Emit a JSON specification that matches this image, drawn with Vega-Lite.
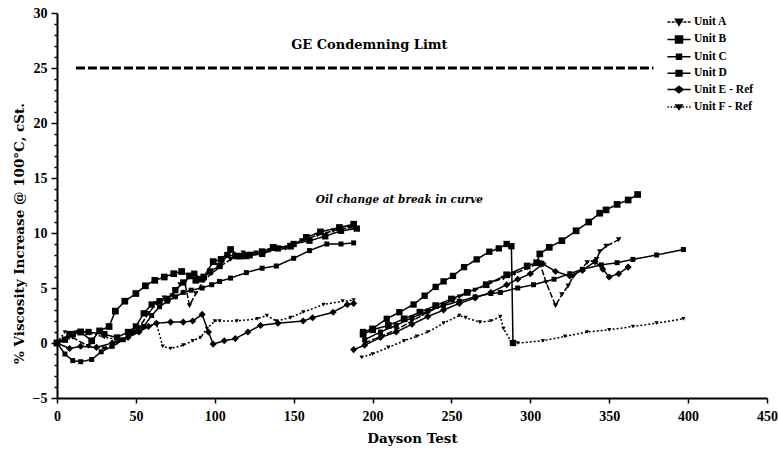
{
  "$schema": "https://vega.github.io/schema/vega-lite/v6.json",
  "width": 710,
  "height": 385,
  "autosize": {"type": "none"},
  "padding": {"left": 57, "top": 13, "right": 12, "bottom": 60},
  "background": "white",
  "config": {
    "view": {"stroke": null},
    "font": "Liberation Serif",
    "axis": {"labelFont": "Liberation Serif", "labelFontWeight": "bold", "labelFontSize": 14, "labelColor": "black", "titleFont": "DejaVu Serif", "titleFontWeight": "bold", "titleFontSize": 13.5, "titleColor": "black", "domainColor": "black", "domainWidth": 2, "tickColor": "black", "tickWidth": 1.5, "grid": false}
  },
  "datasets": {
    "units": [
      {"series":"Unit A","run":1,"day":0,"value":0},{"series":"Unit A","run":1,"day":10,"value":0.5},{"series":"Unit A","run":1,"day":20,"value":-0.3},{"series":"Unit A","run":1,"day":30,"value":-0.5},{"series":"Unit A","run":1,"day":38,"value":0},{"series":"Unit A","run":1,"day":45,"value":0.5},{"series":"Unit A","run":1,"day":52,"value":1.4},{"series":"Unit A","run":1,"day":58,"value":2.7},{"series":"Unit A","run":1,"day":63,"value":3.6},{"series":"Unit A","run":1,"day":68,"value":4.1},{"series":"Unit A","run":1,"day":73,"value":4.3},{"series":"Unit A","run":1,"day":78,"value":5.3},{"series":"Unit A","run":1,"day":81,"value":5.5},{"series":"Unit A","run":1,"day":84,"value":3.4},{"series":"Unit A","run":1,"day":88,"value":4.5},{"series":"Unit A","run":1,"day":93,"value":5.7},{"series":"Unit A","run":1,"day":98,"value":6.3},{"series":"Unit A","run":1,"day":104,"value":7.0},{"series":"Unit A","run":1,"day":110,"value":7.6},{"series":"Unit A","run":1,"day":118,"value":8.2},{"series":"Unit A","run":1,"day":126,"value":8.2},{"series":"Unit A","run":1,"day":135,"value":8.4},{"series":"Unit A","run":1,"day":145,"value":8.6},{"series":"Unit A","run":1,"day":155,"value":9.3},{"series":"Unit A","run":1,"day":165,"value":9.8},{"series":"Unit A","run":1,"day":175,"value":10.2},{"series":"Unit A","run":1,"day":185,"value":10.5},{"series":"Unit A","run":1,"day":190,"value":10.4},
      {"series":"Unit A","run":2,"day":195,"value":0.0},{"series":"Unit A","run":2,"day":205,"value":0.6},{"series":"Unit A","run":2,"day":215,"value":1.2},{"series":"Unit A","run":2,"day":225,"value":2.0},{"series":"Unit A","run":2,"day":235,"value":2.8},{"series":"Unit A","run":2,"day":245,"value":3.5},{"series":"Unit A","run":2,"day":255,"value":4.2},{"series":"Unit A","run":2,"day":265,"value":4.8},{"series":"Unit A","run":2,"day":275,"value":5.5},{"series":"Unit A","run":2,"day":283,"value":5.9},{"series":"Unit A","run":2,"day":290,"value":6.3},{"series":"Unit A","run":2,"day":298,"value":6.8},{"series":"Unit A","run":2,"day":306,"value":7.3},{"series":"Unit A","run":2,"day":310,"value":5.5},{"series":"Unit A","run":2,"day":316,"value":3.4},{"series":"Unit A","run":2,"day":320,"value":4.4},{"series":"Unit A","run":2,"day":324,"value":5.2},{"series":"Unit A","run":2,"day":327,"value":6.0},{"series":"Unit A","run":2,"day":336,"value":7.3},{"series":"Unit A","run":2,"day":342,"value":7.6},{"series":"Unit A","run":2,"day":344,"value":8.3},{"series":"Unit A","run":2,"day":348,"value":8.8},{"series":"Unit A","run":2,"day":356,"value":9.4},
      {"series":"Unit B","run":1,"day":0,"value":0},{"series":"Unit B","run":1,"day":8,"value":0.8},{"series":"Unit B","run":1,"day":15,"value":1.0},{"series":"Unit B","run":1,"day":22,"value":0.2},{"series":"Unit B","run":1,"day":27,"value":1.1},{"series":"Unit B","run":1,"day":33,"value":1.5},{"series":"Unit B","run":1,"day":37,"value":2.9},{"series":"Unit B","run":1,"day":43,"value":3.8},{"series":"Unit B","run":1,"day":50,"value":4.5},{"series":"Unit B","run":1,"day":56,"value":5.2},{"series":"Unit B","run":1,"day":62,"value":5.7},{"series":"Unit B","run":1,"day":68,"value":6.0},{"series":"Unit B","run":1,"day":74,"value":6.3},{"series":"Unit B","run":1,"day":79,"value":6.5},{"series":"Unit B","run":1,"day":84,"value":6.1},{"series":"Unit B","run":1,"day":88,"value":5.7},{"series":"Unit B","run":1,"day":93,"value":6.0},{"series":"Unit B","run":1,"day":99,"value":7.4},{"series":"Unit B","run":1,"day":104,"value":7.6},{"series":"Unit B","run":1,"day":110,"value":8.5},{"series":"Unit B","run":1,"day":116,"value":7.9},{"series":"Unit B","run":1,"day":122,"value":8.0},{"series":"Unit B","run":1,"day":130,"value":8.3},{"series":"Unit B","run":1,"day":137,"value":8.7},{"series":"Unit B","run":1,"day":148,"value":8.8},{"series":"Unit B","run":1,"day":158,"value":9.6},{"series":"Unit B","run":1,"day":167,"value":10.1},{"series":"Unit B","run":1,"day":179,"value":10.5},{"series":"Unit B","run":1,"day":188,"value":10.8},
      {"series":"Unit B","run":2,"day":194,"value":0.8},{"series":"Unit B","run":2,"day":200,"value":1.2},{"series":"Unit B","run":2,"day":210,"value":1.6},{"series":"Unit B","run":2,"day":220,"value":2.2},{"series":"Unit B","run":2,"day":230,"value":2.8},{"series":"Unit B","run":2,"day":240,"value":3.4},{"series":"Unit B","run":2,"day":250,"value":4.0},{"series":"Unit B","run":2,"day":260,"value":4.6},{"series":"Unit B","run":2,"day":272,"value":5.3},{"series":"Unit B","run":2,"day":285,"value":6.2},{"series":"Unit B","run":2,"day":298,"value":7.0},{"series":"Unit B","run":2,"day":304,"value":7.3},{"series":"Unit B","run":2,"day":306,"value":8.1},{"series":"Unit B","run":2,"day":312,"value":8.7},{"series":"Unit B","run":2,"day":320,"value":9.3},{"series":"Unit B","run":2,"day":329,"value":10.2},{"series":"Unit B","run":2,"day":337,"value":11.0},{"series":"Unit B","run":2,"day":344,"value":11.8},{"series":"Unit B","run":2,"day":348,"value":12.1},{"series":"Unit B","run":2,"day":355,"value":12.6},{"series":"Unit B","run":2,"day":362,"value":13.0},{"series":"Unit B","run":2,"day":368,"value":13.5},
      {"series":"Unit C","run":1,"day":0,"value":0},{"series":"Unit C","run":1,"day":5,"value":-1.0},{"series":"Unit C","run":1,"day":10,"value":-1.6},{"series":"Unit C","run":1,"day":15,"value":-1.7},{"series":"Unit C","run":1,"day":22,"value":-1.5},{"series":"Unit C","run":1,"day":28,"value":-0.8},{"series":"Unit C","run":1,"day":35,"value":-0.3},{"series":"Unit C","run":1,"day":42,"value":0.3},{"series":"Unit C","run":1,"day":48,"value":1.0},{"series":"Unit C","run":1,"day":55,"value":1.5},{"series":"Unit C","run":1,"day":60,"value":2.5},{"series":"Unit C","run":1,"day":65,"value":3.3},{"series":"Unit C","run":1,"day":70,"value":3.8},{"series":"Unit C","run":1,"day":75,"value":4.2},{"series":"Unit C","run":1,"day":80,"value":4.6},{"series":"Unit C","run":1,"day":85,"value":4.8},{"series":"Unit C","run":1,"day":92,"value":5.0},{"series":"Unit C","run":1,"day":98,"value":5.3},{"series":"Unit C","run":1,"day":103,"value":5.6},{"series":"Unit C","run":1,"day":110,"value":5.9},{"series":"Unit C","run":1,"day":120,"value":6.4},{"series":"Unit C","run":1,"day":130,"value":6.8},{"series":"Unit C","run":1,"day":139,"value":7.0},{"series":"Unit C","run":1,"day":150,"value":7.7},{"series":"Unit C","run":1,"day":160,"value":8.4},{"series":"Unit C","run":1,"day":171,"value":9.0},{"series":"Unit C","run":1,"day":180,"value":9.0},{"series":"Unit C","run":1,"day":188,"value":9.1},
      {"series":"Unit C","run":2,"day":195,"value":0.3},{"series":"Unit C","run":2,"day":205,"value":1.0},{"series":"Unit C","run":2,"day":215,"value":1.6},{"series":"Unit C","run":2,"day":225,"value":2.3},{"series":"Unit C","run":2,"day":235,"value":2.9},{"series":"Unit C","run":2,"day":245,"value":3.4},{"series":"Unit C","run":2,"day":255,"value":3.8},{"series":"Unit C","run":2,"day":265,"value":4.2},{"series":"Unit C","run":2,"day":275,"value":4.5},{"series":"Unit C","run":2,"day":281,"value":4.6},{"series":"Unit C","run":2,"day":292,"value":5.0},{"series":"Unit C","run":2,"day":302,"value":5.3},{"series":"Unit C","run":2,"day":315,"value":5.8},{"series":"Unit C","run":2,"day":325,"value":6.3},{"series":"Unit C","run":2,"day":333,"value":6.7},{"series":"Unit C","run":2,"day":345,"value":7.1},{"series":"Unit C","run":2,"day":355,"value":7.3},{"series":"Unit C","run":2,"day":365,"value":7.6},{"series":"Unit C","run":2,"day":380,"value":8.0},{"series":"Unit C","run":2,"day":397,"value":8.5},
      {"series":"Unit D","run":1,"day":0,"value":0},{"series":"Unit D","run":1,"day":5,"value":0.3},{"series":"Unit D","run":1,"day":10,"value":0.8},{"series":"Unit D","run":1,"day":15,"value":1.0},{"series":"Unit D","run":1,"day":20,"value":1.0},{"series":"Unit D","run":1,"day":30,"value":0.8},{"series":"Unit D","run":1,"day":38,"value":0.5},{"series":"Unit D","run":1,"day":45,"value":1.0},{"series":"Unit D","run":1,"day":50,"value":1.5},{"series":"Unit D","run":1,"day":55,"value":2.7},{"series":"Unit D","run":1,"day":60,"value":3.5},{"series":"Unit D","run":1,"day":65,"value":3.8},{"series":"Unit D","run":1,"day":70,"value":4.0},{"series":"Unit D","run":1,"day":75,"value":4.8},{"series":"Unit D","run":1,"day":80,"value":5.5},{"series":"Unit D","run":1,"day":87,"value":6.3},{"series":"Unit D","run":1,"day":92,"value":5.8},{"series":"Unit D","run":1,"day":97,"value":6.5},{"series":"Unit D","run":1,"day":103,"value":7.0},{"series":"Unit D","run":1,"day":108,"value":8.0},{"series":"Unit D","run":1,"day":113,"value":7.9},{"series":"Unit D","run":1,"day":120,"value":7.9},{"series":"Unit D","run":1,"day":130,"value":8.1},{"series":"Unit D","run":1,"day":140,"value":8.6},{"series":"Unit D","run":1,"day":150,"value":9.0},{"series":"Unit D","run":1,"day":160,"value":9.3},{"series":"Unit D","run":1,"day":170,"value":9.7},{"series":"Unit D","run":1,"day":180,"value":10.2},{"series":"Unit D","run":1,"day":190,"value":10.4},
      {"series":"Unit D","run":2,"day":194,"value":1.0},{"series":"Unit D","run":2,"day":200,"value":1.3},{"series":"Unit D","run":2,"day":209,"value":2.2},{"series":"Unit D","run":2,"day":217,"value":2.8},{"series":"Unit D","run":2,"day":226,"value":3.5},{"series":"Unit D","run":2,"day":233,"value":4.3},{"series":"Unit D","run":2,"day":240,"value":5.1},{"series":"Unit D","run":2,"day":245,"value":5.6},{"series":"Unit D","run":2,"day":251,"value":6.1},{"series":"Unit D","run":2,"day":258,"value":6.9},{"series":"Unit D","run":2,"day":266,"value":7.6},{"series":"Unit D","run":2,"day":274,"value":8.3},{"series":"Unit D","run":2,"day":280,"value":8.6},{"series":"Unit D","run":2,"day":285,"value":9.0},{"series":"Unit D","run":2,"day":288,"value":8.8},{"series":"Unit D","run":2,"day":289,"value":0.0},
      {"series":"Unit E - Ref","run":1,"day":0,"value":0},{"series":"Unit E - Ref","run":1,"day":8,"value":-0.5},{"series":"Unit E - Ref","run":1,"day":15,"value":-0.3},{"series":"Unit E - Ref","run":1,"day":25,"value":-0.4},{"series":"Unit E - Ref","run":1,"day":35,"value":0.0},{"series":"Unit E - Ref","run":1,"day":45,"value":0.5},{"series":"Unit E - Ref","run":1,"day":52,"value":1.0},{"series":"Unit E - Ref","run":1,"day":58,"value":1.5},{"series":"Unit E - Ref","run":1,"day":63,"value":1.8},{"series":"Unit E - Ref","run":1,"day":72,"value":1.9},{"series":"Unit E - Ref","run":1,"day":80,"value":1.9},{"series":"Unit E - Ref","run":1,"day":86,"value":2.0},{"series":"Unit E - Ref","run":1,"day":92,"value":2.6},{"series":"Unit E - Ref","run":1,"day":96,"value":1.0},{"series":"Unit E - Ref","run":1,"day":99,"value":-0.1},{"series":"Unit E - Ref","run":1,"day":106,"value":0.2},{"series":"Unit E - Ref","run":1,"day":113,"value":0.4},{"series":"Unit E - Ref","run":1,"day":121,"value":1.0},{"series":"Unit E - Ref","run":1,"day":129,"value":1.6},{"series":"Unit E - Ref","run":1,"day":140,"value":1.8},{"series":"Unit E - Ref","run":1,"day":156,"value":2.0},{"series":"Unit E - Ref","run":1,"day":162,"value":2.3},{"series":"Unit E - Ref","run":1,"day":175,"value":2.8},{"series":"Unit E - Ref","run":1,"day":184,"value":3.5},{"series":"Unit E - Ref","run":1,"day":188,"value":3.6},
      {"series":"Unit E - Ref","run":2,"day":188,"value":-0.6},{"series":"Unit E - Ref","run":2,"day":195,"value":-0.2},{"series":"Unit E - Ref","run":2,"day":205,"value":0.5},{"series":"Unit E - Ref","run":2,"day":215,"value":1.0},{"series":"Unit E - Ref","run":2,"day":225,"value":1.7},{"series":"Unit E - Ref","run":2,"day":235,"value":2.4},{"series":"Unit E - Ref","run":2,"day":245,"value":3.0},{"series":"Unit E - Ref","run":2,"day":255,"value":3.6},{"series":"Unit E - Ref","run":2,"day":265,"value":4.1},{"series":"Unit E - Ref","run":2,"day":275,"value":4.6},{"series":"Unit E - Ref","run":2,"day":285,"value":5.3},{"series":"Unit E - Ref","run":2,"day":292,"value":5.8},{"series":"Unit E - Ref","run":2,"day":300,"value":6.3},{"series":"Unit E - Ref","run":2,"day":308,"value":7.2},{"series":"Unit E - Ref","run":2,"day":316,"value":6.5},{"series":"Unit E - Ref","run":2,"day":325,"value":6.1},{"series":"Unit E - Ref","run":2,"day":333,"value":6.6},{"series":"Unit E - Ref","run":2,"day":341,"value":7.4},{"series":"Unit E - Ref","run":2,"day":346,"value":6.7},{"series":"Unit E - Ref","run":2,"day":350,"value":6.0},{"series":"Unit E - Ref","run":2,"day":356,"value":6.3},{"series":"Unit E - Ref","run":2,"day":362,"value":6.9},
      {"series":"Unit F - Ref","run":1,"day":0,"value":0},{"series":"Unit F - Ref","run":1,"day":5,"value":1.0},{"series":"Unit F - Ref","run":1,"day":12,"value":1.0},{"series":"Unit F - Ref","run":1,"day":20,"value":1.0},{"series":"Unit F - Ref","run":1,"day":30,"value":0.5},{"series":"Unit F - Ref","run":1,"day":40,"value":0.3},{"series":"Unit F - Ref","run":1,"day":50,"value":1.0},{"series":"Unit F - Ref","run":1,"day":58,"value":1.5},{"series":"Unit F - Ref","run":1,"day":63,"value":1.8},{"series":"Unit F - Ref","run":1,"day":67,"value":-0.3},{"series":"Unit F - Ref","run":1,"day":72,"value":-0.5},{"series":"Unit F - Ref","run":1,"day":80,"value":-0.2},{"series":"Unit F - Ref","run":1,"day":86,"value":0.2},{"series":"Unit F - Ref","run":1,"day":91,"value":0.5},{"series":"Unit F - Ref","run":1,"day":95,"value":1.3},{"series":"Unit F - Ref","run":1,"day":100,"value":2.0},{"series":"Unit F - Ref","run":1,"day":103,"value":2.0},{"series":"Unit F - Ref","run":1,"day":114,"value":2.0},{"series":"Unit F - Ref","run":1,"day":127,"value":2.2},{"series":"Unit F - Ref","run":1,"day":133,"value":2.5},{"series":"Unit F - Ref","run":1,"day":139,"value":2.0},{"series":"Unit F - Ref","run":1,"day":148,"value":2.3},{"series":"Unit F - Ref","run":1,"day":156,"value":2.8},{"series":"Unit F - Ref","run":1,"day":169,"value":3.5},{"series":"Unit F - Ref","run":1,"day":181,"value":3.8},{"series":"Unit F - Ref","run":1,"day":188,"value":3.9},
      {"series":"Unit F - Ref","run":2,"day":193,"value":-1.3},{"series":"Unit F - Ref","run":2,"day":200,"value":-1.0},{"series":"Unit F - Ref","run":2,"day":210,"value":-0.4},{"series":"Unit F - Ref","run":2,"day":220,"value":0.2},{"series":"Unit F - Ref","run":2,"day":228,"value":0.6},{"series":"Unit F - Ref","run":2,"day":235,"value":1.0},{"series":"Unit F - Ref","run":2,"day":245,"value":1.8},{"series":"Unit F - Ref","run":2,"day":255,"value":2.5},{"series":"Unit F - Ref","run":2,"day":259,"value":2.3},{"series":"Unit F - Ref","run":2,"day":268,"value":1.9},{"series":"Unit F - Ref","run":2,"day":275,"value":2.0},{"series":"Unit F - Ref","run":2,"day":281,"value":2.4},{"series":"Unit F - Ref","run":2,"day":283,"value":1.3},{"series":"Unit F - Ref","run":2,"day":288,"value":0.1},{"series":"Unit F - Ref","run":2,"day":292,"value":0.0},{"series":"Unit F - Ref","run":2,"day":308,"value":0.2},{"series":"Unit F - Ref","run":2,"day":322,"value":0.6},{"series":"Unit F - Ref","run":2,"day":336,"value":1.0},{"series":"Unit F - Ref","run":2,"day":350,"value":1.2},{"series":"Unit F - Ref","run":2,"day":365,"value":1.5},{"series":"Unit F - Ref","run":2,"day":380,"value":1.8},{"series":"Unit F - Ref","run":2,"day":397,"value":2.2}
    ],
    "limit": [{"day": 12, "value": 25}, {"day": 378, "value": 25}],
    "notes": [
      {"day": 198, "value": 27.1, "text": "GE Condemning Limt", "kind": "limit"},
      {"day": 217, "value": 13.0, "text": "Oil change at break in curve", "kind": "oil"}
    ]
  },
  "encoding": {
    "x": {"field": "day", "type": "quantitative", "scale": {"domain": [0, 450], "nice": false}, "axis": {"values": [0, 50, 100, 150, 200, 250, 300, 350, 400, 450], "title": "Dayson Test", "tickSize": 5, "labelPadding": 6, "titlePadding": 8, "labelFlush": false}},
    "y": {"field": "value", "type": "quantitative", "scale": {"domain": [-5, 30], "nice": false, "zero": false}, "axis": {"values": [-5,-4,-3,-2,-1,0,1,2,3,4,5,6,7,8,9,10,11,12,13,14,15,16,17,18,19,20,21,22,23,24,25,26,27,28,29,30], "labelExpr": "datum.value % 5 === 0 ? datum.label : ''", "tickSize": {"condition": {"test": "datum.value % 5 === 0", "value": 6}, "value": 3}, "labelPadding": 4, "labelOverlap": false, "labelFlush": false, "title": "% Viscosity Increase @ 100°C, cSt.", "titlePadding": 6, "titleY": 220}}
  },
  "layer": [
    {
      "data": {"name": "limit"},
      "mark": {"type": "line", "color": "black", "strokeWidth": 3, "strokeDash": [9, 3]}
    },
    {
      "data": {"name": "units"},
      "mark": {"type": "line", "color": "black", "strokeWidth": 1.5},
      "encoding": {
        "detail": [{"field": "series"}, {"field": "run"}],
        "strokeDash": {"field": "series", "type": "nominal", "scale": {"domain": ["Unit A","Unit B","Unit C","Unit D","Unit E - Ref","Unit F - Ref"], "range": [[6,2],[1,0],[1,0],[1,0],[1,0],[2,2]]}, "legend": null},
        "order": {"field": "day", "type": "quantitative"}
      }
    },
    {"data": {"name": "units"}, "transform": [{"filter": "datum.series === 'Unit A'"}], "mark": {"type": "point", "filled": true, "color": "black", "opacity": 1, "shape": "triangle-down", "size": 30}},
    {"data": {"name": "units"}, "transform": [{"filter": "datum.series === 'Unit B'"}], "mark": {"type": "point", "filled": true, "color": "black", "opacity": 1, "shape": "square", "size": 45}},
    {"data": {"name": "units"}, "transform": [{"filter": "datum.series === 'Unit C'"}], "mark": {"type": "point", "filled": true, "color": "black", "opacity": 1, "shape": "square", "size": 25}},
    {"data": {"name": "units"}, "transform": [{"filter": "datum.series === 'Unit D'"}], "mark": {"type": "point", "filled": true, "color": "black", "opacity": 1, "shape": "square", "size": 40}},
    {"data": {"name": "units"}, "transform": [{"filter": "datum.series === 'Unit E - Ref'"}], "mark": {"type": "point", "filled": true, "color": "black", "opacity": 1, "shape": "diamond", "size": 50}},
    {"data": {"name": "units"}, "transform": [{"filter": "datum.series === 'Unit F - Ref'"}], "mark": {"type": "point", "filled": true, "color": "black", "opacity": 1, "shape": "triangle-down", "size": 18}},
    {
      "data": {"name": "units"},
      "mark": {"type": "point", "filled": false, "color": "black", "strokeWidth": 1.5, "opacity": 0},
      "encoding": {
        "shape": {
          "field": "series", "type": "nominal",
          "scale": {"domain": ["Unit A","Unit B","Unit C","Unit D","Unit E - Ref","Unit F - Ref"],
            "range": [
              "M-1.65,0L-1.25,0M-1.05,0L-0.65,0M-0.5,0L0.5,0M0.65,0L1.05,0M1.25,0L1.65,0M-0.5,-0.4L0.5,-0.4L0,0.45ZM-0.25,-0.2L0.25,-0.2L0,0.2Z",
              "M-1.65,0L1.65,0M-0.5,-0.5L0.5,-0.5L0.5,0.5L-0.5,0.5ZM-0.3,-0.3L0.3,-0.3L0.3,0.3L-0.3,0.3ZM-0.1,-0.1L0.1,-0.1L0.1,0.1L-0.1,0.1Z",
              "M-1.65,0L1.65,0M-0.35,-0.35L0.35,-0.35L0.35,0.35L-0.35,0.35ZM-0.15,-0.15L0.15,-0.15L0.15,0.15L-0.15,0.15Z",
              "M-1.65,0L1.65,0M-0.42,-0.4L0.42,-0.4L0.42,0.4L-0.42,0.4ZM-0.22,-0.2L0.22,-0.2L0.22,0.2L-0.22,0.2ZM-0.05,-0.05L0.05,-0.05L0.05,0.05L-0.05,0.05Z",
              "M-1.65,0L1.65,0M0,-0.45L0.6,0L0,0.45L-0.6,0ZM0,-0.26L0.35,0L0,0.26L-0.35,0ZM0,-0.09L0.12,0L0,0.09L-0.12,0Z",
              "M-1.65,0L-1.45,0M-1.2,0L-1.0,0M-0.75,0L-0.55,0M-0.5,0L0.5,0M0.55,0L0.75,0M1.0,0L1.2,0M1.45,0L1.65,0M-0.45,-0.3L0.45,-0.3L0,0.35ZM-0.2,-0.15L0.2,-0.15L0,0.12Z"
            ]},
          "legend": {
            "title": null, "orient": "none", "legendX": 614, "legendY": 1, "padding": 0,
            "symbolSize": 196, "symbolStrokeColor": "black", "symbolStrokeWidth": 1.5, "symbolOpacity": 1,
            "labelFont": "Liberation Serif", "labelFontWeight": "bold", "labelFontSize": 11.5, "labelColor": "black", "labelOffset": 7, "rowPadding": 2.4
          }
        }
      }
    },
    {
      "data": {"name": "notes"},
      "transform": [{"filter": "datum.kind === 'limit'"}],
      "mark": {"type": "text", "font": "DejaVu Serif", "fontWeight": "bold", "fontSize": 13, "color": "black", "align": "center", "baseline": "middle"},
      "encoding": {"text": {"field": "text"}}
    },
    {
      "data": {"name": "notes"},
      "transform": [{"filter": "datum.kind === 'oil'"}],
      "mark": {"type": "text", "font": "DejaVu Serif", "fontWeight": "bold", "fontStyle": "italic", "fontSize": 10.5, "color": "black", "align": "center", "baseline": "middle"},
      "encoding": {"text": {"field": "text"}}
    }
  ],
  "resolve": {"scale": {"shape": "independent"}, "legend": {"shape": "independent"}}
}
